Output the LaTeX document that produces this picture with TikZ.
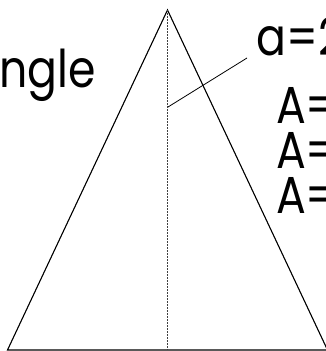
\documentclass[tikz,border=0pt]{standalone}
\usepackage{fontspec}
\setmainfont{Poppins}
\newfontfamily\labelfont[FakeStretch=0.85]{Poppins}
\usetikzlibrary{positioning}

\begin{document}
\begin{tikzpicture}[x=1pt,y=-1pt,
    edge/.style={line width=1.1pt,black},
    axis/.style={line width=0.9pt,black!75,dash pattern=on 1.6pt off 1.4pt},
    lead/.style={line width=0.8pt,black},
    lbl/.style={font=\labelfont\fontsize{52}{52}\selectfont,inner sep=0pt,anchor=base west}
  ]
    \useasboundingbox (0,0) rectangle (325,351);
    \coordinate (apex) at (167.5,10);
    \coordinate (bl) at (7.5,350);
    \coordinate (br) at (327.5,350);
    \draw[edge] (bl) -- (apex) -- (br) -- cycle;
    \draw[axis] (apex) -- (apex |- bl);
    \node[lbl] (name) at (-1,87) {ngle};
    \node[lbl] (side) at (256,55) {a=2};
    \node[lbl] (area1) at (276,123) {A=};
    \node[lbl] (area2) at (276,168) {A=};
    \node[lbl] (area3) at (276,213) {A=};
    \coordinate (foot) at (168,107);
    \coordinate (tip) at (247,58);
    \draw[lead] (foot) -- (tip);
  \end{tikzpicture}
\end{document}
